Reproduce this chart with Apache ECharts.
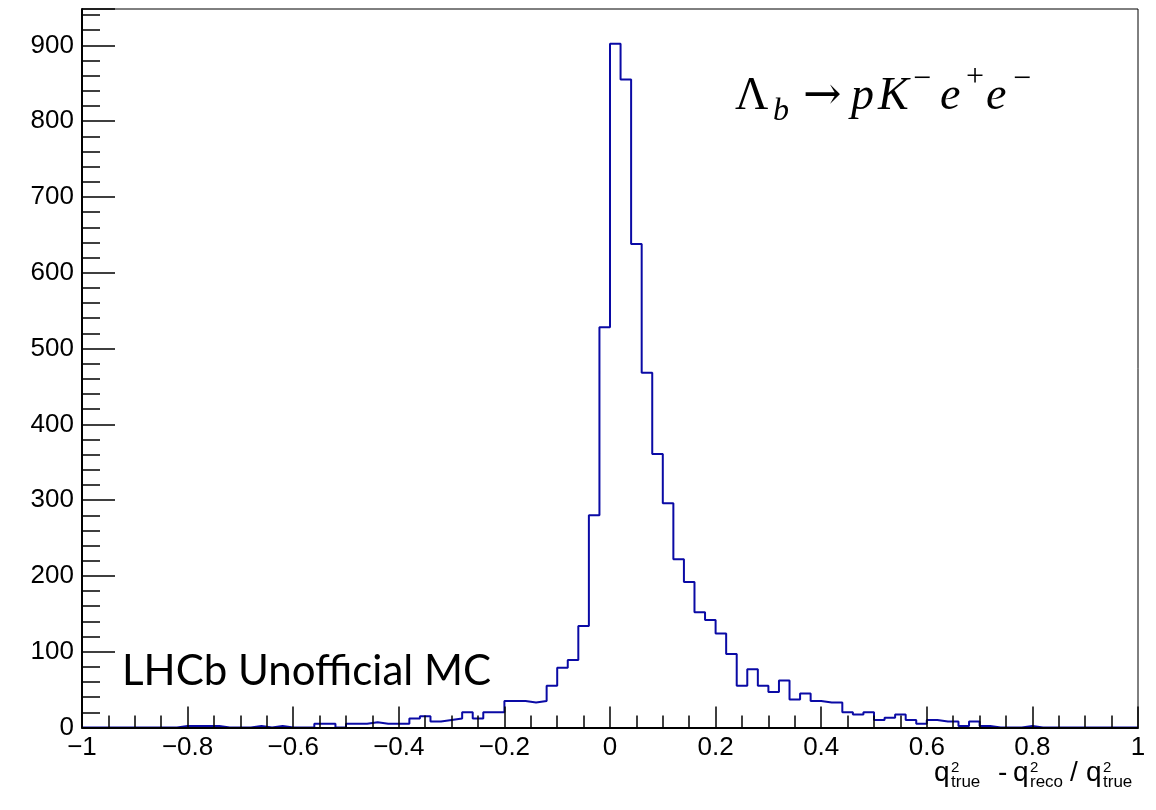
<!DOCTYPE html>
<html>
<head>
<meta charset="utf-8">
<script src="https://cdn.jsdelivr.net/npm/echarts@6/dist/echarts.min.js"></script>
<style>html,body{margin:0;padding:0;background:#fff}#chart{width:1156px;height:810px}</style>
</head>
<body>
<div id="chart"></div>
<script>
// ---- data ----
const binLow = -1;
const binWidth = 0.02;
// 100 bins from -1 to 1 (lower edges -1.00, -0.98, ... 0.98)
const counts = [
  0, 0, 0, 0, 0, 0, 0, 0, 0,          // -1.00 .. -0.84
  2, 2, 2, 2,                         // -0.82 .. -0.76
  0, 0, 0,                            // -0.74 .. -0.70
  2, 0, 2, 0, 0, 0,                   // -0.68 .. -0.58
  5, 5, 0, 5, 5, 7, 5, 5, 5,          // -0.56 .. -0.40
  12, 15, 8, 10, 12, 20, 12, 20, 20,  // -0.38 .. -0.22
  35, 35, 33, 35, 55, 79, 89, 134, 280, 528, // -0.20 .. -0.02
  902, 855, 638, 468, 361, 296, 222, 192, 152, 142, // 0.00 .. 0.18
  124, 97, 55, 77, 55, 47, 62, 37, 45, 35,          // 0.20 .. 0.38
  33, 33, 20, 17, 20, 10, 13, 17, 10, 5,            // 0.40 .. 0.58
  10, 8, 8, 2, 8, 2, 0, 0, 0, 2,                    // 0.60 .. 0.78
  0, 0, 0, 0, 0, 0, 0, 0, 0, 0                      // 0.80 .. 0.98
];
const xMajorTicks = [-1, -0.8, -0.6, -0.4, -0.2, 0, 0.2, 0.4, 0.6, 0.8, 1];
const yMajorTicks = [0, 100, 200, 300, 400, 500, 600, 700, 800, 900];
const yMax = 948;

// ---- text helper: each piece placed at an absolute x, relative to a baseline ----
function buildText(pieces, baseline){
  return pieces.map(p => ({
    type: 'text', x: p.at, y: baseline + (p.dy||0) - 0.32*p.size, silent: true, z: 10,
    style: { text: p.t, fontSize: p.size, fontFamily: p.family, fontStyle: p.style||'normal',
             fill: '#000', align: 'left', verticalAlign: 'middle' }
  }));
}

const SANS = 'Liberation Sans', SERIF = 'Liberation Serif';
const tM = 28, tS = 17;
const xTitle = buildText([
  {t:'q', size:tM, family:SANS, at:934},
  {t:'2', size:tS-2, family:SANS, dy:-9, at:951},
  {t:'true', size:tS, family:SANS, dy:6, at:951},
  {t:'-', size:tM, family:SANS, at:998},
  {t:'q', size:tM, family:SANS, at:1013},
  {t:'2', size:tS-2, family:SANS, dy:-9, at:1030},
  {t:'reco', size:tS, family:SANS, dy:6, at:1030},
  {t:'/', size:tM, family:SANS, at:1070},
  {t:'q', size:tM, family:SANS, at:1086},
  {t:'2', size:tS-2, family:SANS, dy:-9, at:1103},
  {t:'true', size:tS, family:SANS, dy:6, at:1103}
], 782);

const S = 46, s = 32;
const decay = buildText([
  {t:'Λ', size:S, family:SERIF, at:735},
  {t:'b', size:s, family:SERIF, style:'italic', dy:10, at:773},
  {t:'→', size:S, family:'DejaVu Serif', at:803},
  {t:'p', size:S, family:SERIF, style:'italic', at:851},
  {t:'K', size:S, family:SERIF, style:'italic', at:878},
  {t:'−', size:s, family:SERIF, dy:-22, at:913},
  {t:'e', size:S, family:SERIF, style:'italic', at:940},
  {t:'+', size:s, family:SERIF, dy:-24, at:966},
  {t:'e', size:S, family:SERIF, style:'italic', at:986},
  {t:'−', size:s, family:SERIF, dy:-22, at:1013}
], 111.5);

const lhcb = buildText([{t:'LHCb Unofficial MC', size:42, family:'Lato', at:122}], 685);

// ---- histogram as step line ----
const stepData = counts.map((c, i) => [binLow + i*binWidth, c]);
stepData.push([binLow + counts.length*binWidth, counts[counts.length-1]]);

function fmtX(v){
  const r = Math.round(v*10)/10;
  if (!xMajorTicks.some(t => Math.abs(t - r) < 1e-9)) return '';
  return (r < 0 ? '\u2212' : '') + String(Math.abs(r));
}
function fmtY(v){
  return yMajorTicks.indexOf(Math.round(v)) >= 0 && Math.abs(v - Math.round(v)) < 1e-9 ? String(Math.round(v)) : '';
}

const chart = echarts.init(document.getElementById('chart'), null, {renderer: 'canvas'});
chart.setOption({
  animation: false,
  backgroundColor: '#fff',
  grid: { left: 82, right: 18, top: 9, bottom: 82.5, show: true, borderColor: '#000', borderWidth: 1, backgroundColor: 'transparent' },
  xAxis: [
    { type: 'value', min: -1, max: 1, interval: 0.2, position: 'bottom', z: 5,
      axisLine: { show: true, onZero: false, lineStyle: { color: '#000', width: 2 } },
      axisTick: { show: true, inside: true, length: 21, lineStyle: { color: '#000', width: 1.5 } },
      axisLabel: { show: true, margin: 7, color: '#000', fontSize: 26, fontFamily: SANS, formatter: fmtX, hideOverlap: false },
      splitLine: { show: false } },
    { type: 'value', min: -1, max: 1, interval: 0.05, position: 'bottom', offset: 0, z: 5,
      axisLine: { show: false, onZero: false },
      axisTick: { show: true, inside: true, length: 12, lineStyle: { color: '#000', width: 1.5 } },
      axisLabel: { show: false }, splitLine: { show: false } }
  ],
  yAxis: [
    { type: 'value', min: 0, max: yMax, interval: 100, position: 'left', z: 5,
      axisLine: { show: true, onZero: false, lineStyle: { color: '#000', width: 2 } },
      axisTick: { show: true, inside: true, length: 33, lineStyle: { color: '#000', width: 1.5 } },
      axisLabel: { show: true, margin: 8, color: '#000', fontSize: 26, fontFamily: SANS, formatter: fmtY, hideOverlap: false },
      splitLine: { show: false } },
    { type: 'value', min: 0, max: yMax, interval: 20, position: 'left', offset: 0, z: 5,
      axisLine: { show: false, onZero: false },
      axisTick: { show: true, inside: true, length: 18, lineStyle: { color: '#000', width: 1.5 } },
      axisLabel: { show: false }, splitLine: { show: false } }
  ],
  series: [{
    type: 'line', xAxisIndex: 0, yAxisIndex: 0, step: 'end', data: stepData,
    showSymbol: false, symbol: 'none', z: 2,
    lineStyle: { color: '#0a0aa5', width: 2 }
  }],
  graphic: [].concat(xTitle, decay, lhcb)
});
</script>
</body>
</html>
